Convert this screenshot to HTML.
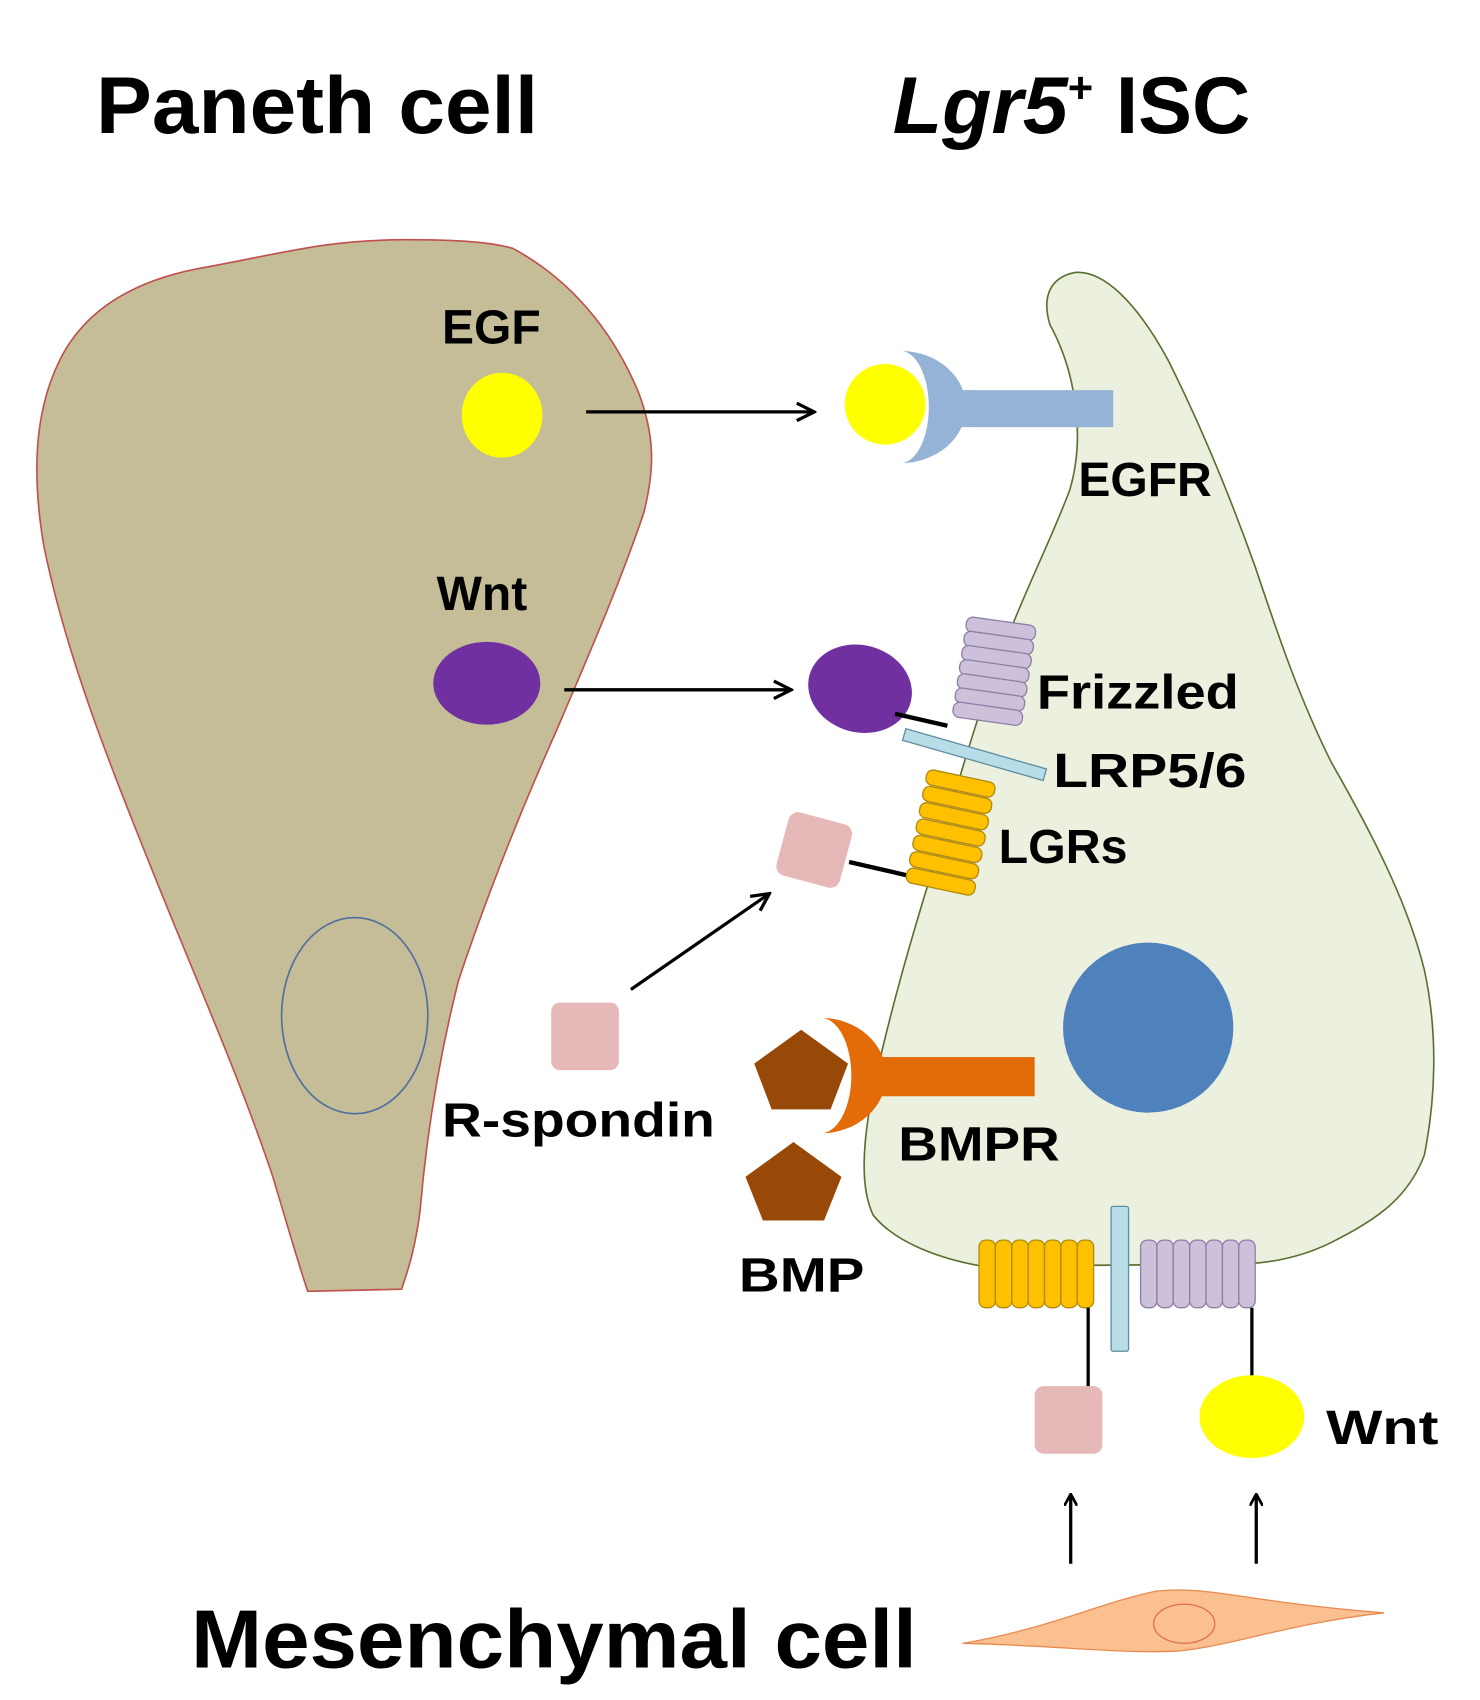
<!DOCTYPE html>
<html><head><meta charset="utf-8"><style>html,body{margin:0;padding:0;background:#fff}svg{display:block}</style></head>
<body>
<svg width="1480" height="1700" viewBox="0 0 1356 1560" preserveAspectRatio="none" xmlns="http://www.w3.org/2000/svg" font-family="Liberation Sans, sans-serif" font-weight="bold">
<defs>
<marker id="ah" markerWidth="12" markerHeight="12" refX="10" refY="6" orient="auto" markerUnits="userSpaceOnUse"><path d="M0,0 L11,6 L0,12" fill="none" stroke="#000" stroke-width="2.5"/></marker>
<marker id="ah2" markerWidth="20" markerHeight="20" refX="18" refY="10" orient="auto" markerUnits="userSpaceOnUse"><path d="M2,2 L18,10 L2,18" fill="none" stroke="#000" stroke-width="3"/></marker>
</defs>
<text x="88" y="122" font-size="74" textLength="405" lengthAdjust="spacingAndGlyphs">Paneth cell</text>
<text x="818" y="122" font-size="74"><tspan font-style="italic">Lgr5</tspan><tspan font-size="40" dy="-28">+</tspan><tspan dy="28"> ISC</tspan></text>

<!-- Paneth cell -->
<path d="M55,330 C80,280 130,255 190,245 C260,232 300,220 370,220 C420,220 450,222 470,228 C520,255 560,300 585,360 C600,400 600,430 590,470 C570,530 540,600 510,670 C470,760 440,840 420,900 C400,980 390,1050 385,1110 C380,1150 372,1170 368,1183 L282,1185 C275,1165 268,1140 250,1080 C220,990 180,900 140,800 C100,700 60,600 40,500 C30,440 30,380 55,330 Z" fill="#c4bd97" stroke="#c0504d" stroke-width="1.5"/>
<ellipse cx="325" cy="932" rx="67" ry="90" fill="none" stroke="#4f6fa0" stroke-width="1.5"/>

<!-- ISC -->
<path d="M962,298 C955,275 960,255 985,250 C1010,248 1040,275 1070,330 C1100,390 1125,450 1150,520 C1170,580 1190,640 1220,700 C1260,770 1290,830 1305,890 C1318,950 1315,1010 1305,1060 C1290,1100 1260,1120 1220,1140 C1190,1155 1160,1160 1130,1160 L900,1162 C860,1155 820,1140 800,1115 C788,1090 790,1050 800,1000 C815,930 835,860 860,780 C880,710 900,640 925,580 C945,530 965,490 980,450 C995,400 985,340 962,298 Z" fill="#ebf1de" stroke="#5a7030" stroke-width="1.5"/>
<circle cx="1052" cy="943" r="78" fill="#4f81bd"/>

<!-- EGF -->
<text x="405" y="315" font-size="44">EGF</text>
<ellipse cx="460" cy="381" rx="37" ry="39" fill="#ffff00"/>
<line x1="537" y1="378" x2="746" y2="378" stroke="#000" stroke-width="3" marker-end="url(#ah2)"/>
<rect x="870" y="358" width="150" height="34" fill="#95b3d7"/>
<path d="M825,322 A60,51.5 0 0 1 825,425 A26,51.5 0 0 0 825,322 Z" fill="#95b3d7"/>
<circle cx="811" cy="371" r="37" fill="#ffff00"/>
<text x="988" y="455" font-size="44">EGFR</text>

<!-- Wnt -->
<text x="400" y="560" font-size="44">Wnt</text>
<ellipse cx="446" cy="627" rx="49" ry="38" fill="#7030a0"/>
<line x1="517" y1="633" x2="725" y2="633" stroke="#000" stroke-width="3" marker-end="url(#ah2)"/>
<ellipse cx="788" cy="632" rx="48" ry="40" fill="#7030a0" transform="rotate(15 788 632)"/>
<line x1="820" y1="655" x2="868" y2="666" stroke="#000" stroke-width="4"/>
<g fill="#ccc0da" stroke="#8c7fa5" stroke-width="1.2">
<rect x="885" y="570" width="64" height="14" rx="6" transform="rotate(8 917 577)"/>
<rect x="883" y="583" width="64" height="14" rx="6" transform="rotate(8 915 590)"/>
<rect x="881" y="596" width="64" height="14" rx="6" transform="rotate(8 913 603)"/>
<rect x="879" y="609" width="64" height="14" rx="6" transform="rotate(8 911 616)"/>
<rect x="877" y="622" width="64" height="14" rx="6" transform="rotate(8 909 629)"/>
<rect x="875" y="635" width="64" height="14" rx="6" transform="rotate(8 907 642)"/>
<rect x="873" y="648" width="64" height="14" rx="6" transform="rotate(8 905 655)"/>
</g>
<rect x="826" y="687" width="134" height="11" fill="#b7dde8" stroke="#5f8fa0" stroke-width="1.2" transform="rotate(16 893 692)"/>
<text x="950" y="650" font-size="44" textLength="185" lengthAdjust="spacingAndGlyphs">Frizzled</text>
<text x="965" y="722" font-size="44" textLength="177" lengthAdjust="spacingAndGlyphs">LRP5/6</text>
<text x="915" y="792" font-size="44" textLength="118" lengthAdjust="spacingAndGlyphs">LGRs</text>

<!-- LGRs -->
<g fill="#ffc000" stroke="#b08a10" stroke-width="1.2">
<rect x="848" y="712" width="64" height="14" rx="6" transform="rotate(12 880 719)"/>
<rect x="845" y="727" width="64" height="14" rx="6" transform="rotate(12 877 734)"/>
<rect x="842" y="742" width="64" height="14" rx="6" transform="rotate(12 874 749)"/>
<rect x="839" y="757" width="64" height="14" rx="6" transform="rotate(12 871 764)"/>
<rect x="836" y="772" width="64" height="14" rx="6" transform="rotate(12 868 779)"/>
<rect x="833" y="787" width="64" height="14" rx="6" transform="rotate(12 865 794)"/>
<rect x="830" y="802" width="64" height="14" rx="6" transform="rotate(12 862 809)"/>
</g>
<rect x="716" y="750" width="60" height="60" rx="9" fill="#e6b9b8" transform="rotate(15 746 780)"/>
<line x1="778" y1="791" x2="830" y2="803" stroke="#000" stroke-width="4"/>
<line x1="578" y1="908" x2="705" y2="820" stroke="#000" stroke-width="3" marker-end="url(#ah2)"/>
<rect x="505" y="920" width="62" height="62" rx="8" fill="#e6b9b8"/>
<text x="405" y="1043" font-size="44" textLength="250" lengthAdjust="spacingAndGlyphs">R-spondin</text>

<!-- BMP -->
<rect x="800" y="970" width="148" height="36" fill="#e36c09"/>
<path d="M752,934 A60,53 0 0 1 752,1040 A28,53 0 0 0 752,934 Z" fill="#e36c09"/>
<polygon points="734,945 777,976 761,1018 707,1018 691,976" fill="#984807"/>
<polygon points="727,1048 771,1080 755,1120 699,1120 683,1080" fill="#984807"/>
<text x="823" y="1065" font-size="44" textLength="148" lengthAdjust="spacingAndGlyphs">BMPR</text>
<text x="677" y="1185" font-size="44" textLength="115" lengthAdjust="spacingAndGlyphs">BMP</text>

<!-- bottom receptors -->
<g fill="#ffc000" stroke="#b08a10" stroke-width="1.2">
<rect x="897" y="1138" width="15" height="62" rx="6"/><rect x="912" y="1138" width="15" height="62" rx="6"/><rect x="927" y="1138" width="15" height="62" rx="6"/><rect x="942" y="1138" width="15" height="62" rx="6"/><rect x="957" y="1138" width="15" height="62" rx="6"/><rect x="972" y="1138" width="15" height="62" rx="6"/><rect x="987" y="1138" width="15" height="62" rx="6"/>
</g>
<g fill="#ccc0da" stroke="#8c7fa5" stroke-width="1.2">
<rect x="1045" y="1138" width="15" height="62" rx="6"/><rect x="1060" y="1138" width="15" height="62" rx="6"/><rect x="1075" y="1138" width="15" height="62" rx="6"/><rect x="1090" y="1138" width="15" height="62" rx="6"/><rect x="1105" y="1138" width="15" height="62" rx="6"/><rect x="1120" y="1138" width="15" height="62" rx="6"/><rect x="1135" y="1138" width="15" height="62" rx="6"/>
</g>
<rect x="1018" y="1107" width="16" height="133" rx="2" fill="#b7dde8" stroke="#5f8fa0" stroke-width="1.2"/>
<line x1="997" y1="1200" x2="997" y2="1275" stroke="#000" stroke-width="3"/>
<line x1="1147" y1="1200" x2="1147" y2="1265" stroke="#000" stroke-width="3"/>
<rect x="948" y="1272" width="62" height="62" rx="8" fill="#e6b9b8"/>
<ellipse cx="1147" cy="1300" rx="48" ry="38" fill="#ffff00"/>
<text x="1215" y="1325" font-size="44" textLength="103" lengthAdjust="spacingAndGlyphs">Wnt</text>
<line x1="981" y1="1435" x2="981" y2="1372" stroke="#000" stroke-width="3" marker-end="url(#ah)"/>
<line x1="1151" y1="1435" x2="1151" y2="1372" stroke="#000" stroke-width="3" marker-end="url(#ah)"/>

<!-- Mesenchymal -->
<text x="175" y="1530" font-size="76" textLength="665" lengthAdjust="spacingAndGlyphs">Mesenchymal cell</text>
<path d="M882,1508 C960,1495 1010,1470 1060,1460 C1110,1455 1140,1470 1268,1480 C1180,1490 1130,1510 1080,1515 C1030,1518 970,1510 882,1508 Z" fill="#fac090" stroke="#e88a50" stroke-width="1.2"/>
<ellipse cx="1085" cy="1490" rx="28" ry="18" fill="none" stroke="#e07050" stroke-width="1.2"/>
</svg>
</body></html>
